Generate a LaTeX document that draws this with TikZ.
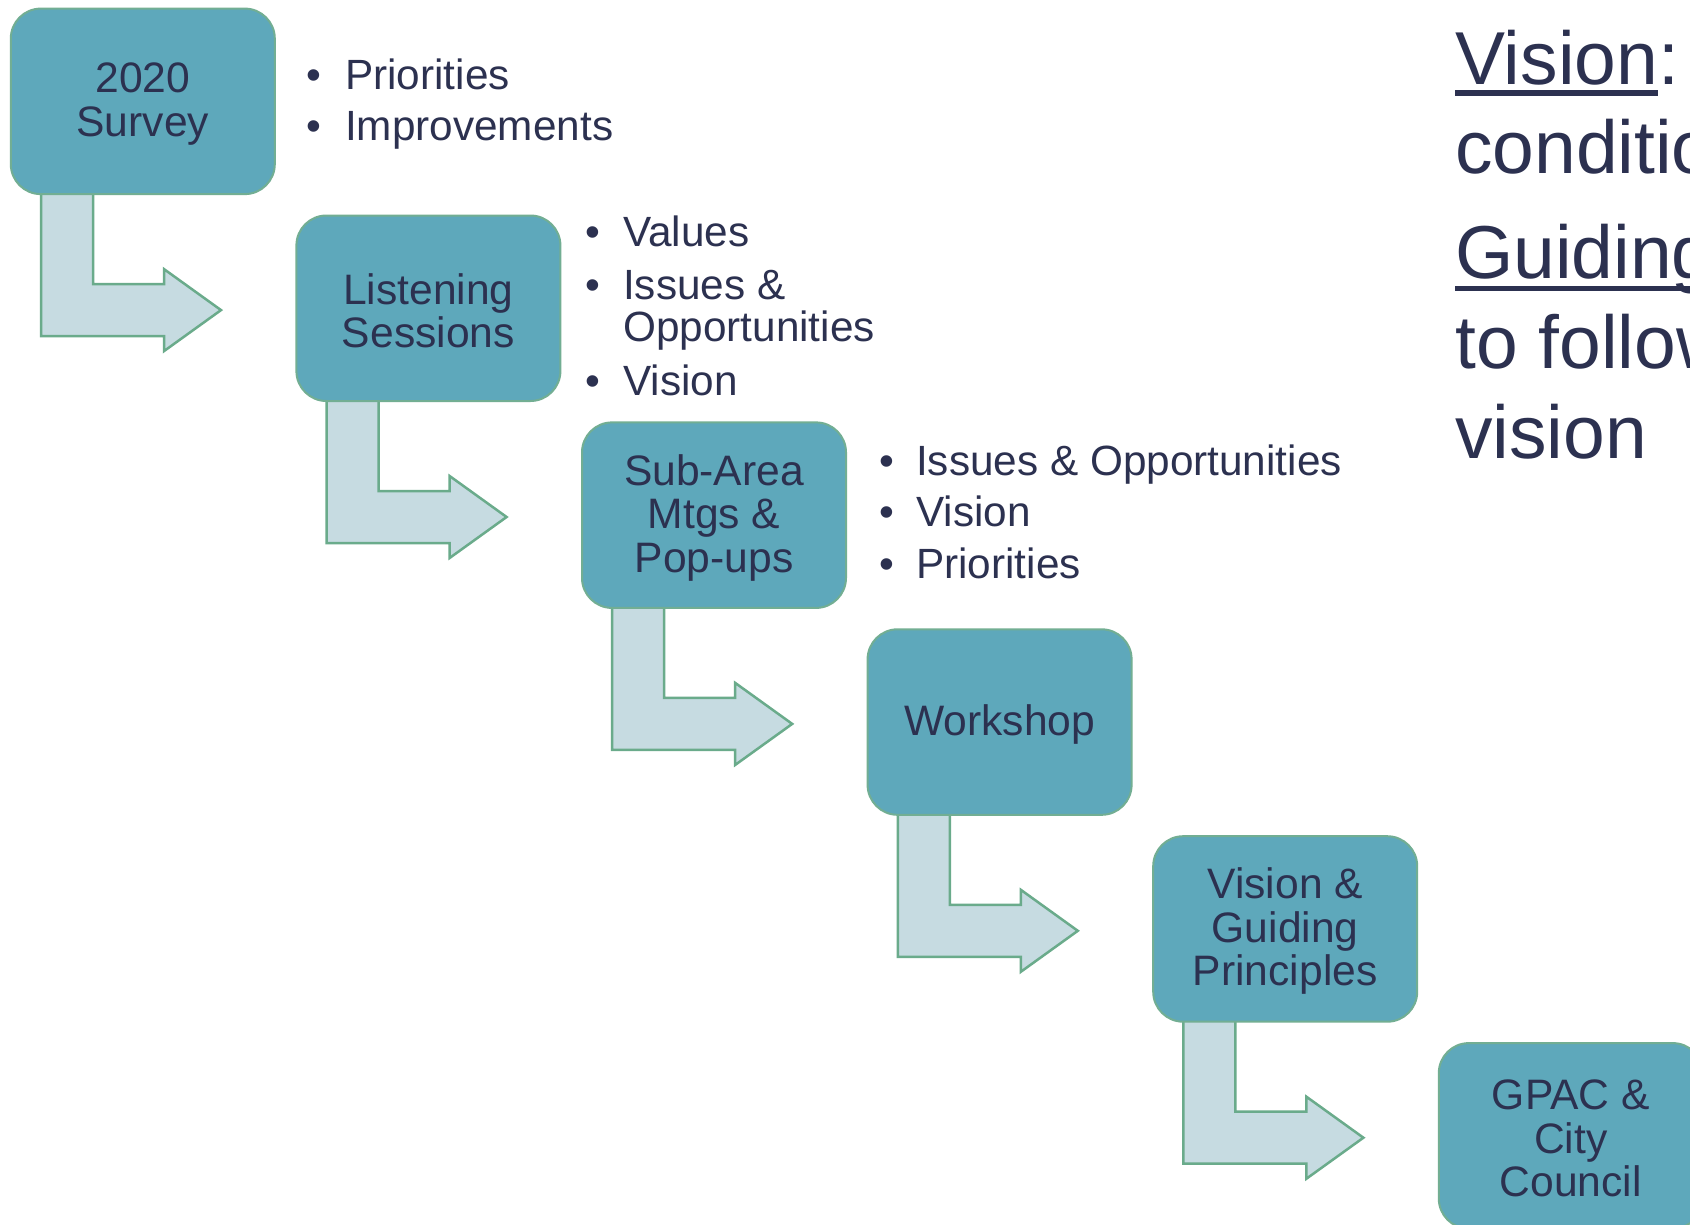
\documentclass[tikz,border=0pt]{standalone}
\usepackage{fontspec}
\setmainfont{Liberation Sans}
\usetikzlibrary{calc}
\definecolor{boxfill}{HTML}{5EA8BB}
\definecolor{boxline}{HTML}{72AE93}
\definecolor{arrfill}{HTML}{C6DBE1}
\definecolor{arrline}{HTML}{6AAB8B}
\definecolor{ink}{HTML}{2C3150}
\tikzset{
  stagebox/.style={draw=boxline, line width=2pt, fill=boxfill, rounded corners=30pt,
    minimum width=264pt, minimum height=185.5pt, inner sep=0pt, outer sep=0pt},
  stagetext/.style={inner sep=0pt, align=center, text=ink, font=\fontsize{42.6}{43.5}\selectfont},
  blockarrow/.style={draw=arrline, line width=2.5pt, fill=arrfill, line join=miter},
  bul/.style={anchor=base, text=ink, font=\fontsize{42.3}{42}\selectfont, inner sep=0pt},
  itemtxt/.style={anchor=base west, text=ink, font=\fontsize{42.3}{42}\selectfont, inner sep=0pt},
  sidetxt/.style={anchor=base west, text=ink, font=\fontsize{75}{90}\selectfont, inner sep=0pt},
  uline/.style={draw=ink, line width=5.5pt}
}
\begin{document}
\begin{tikzpicture}[x=1pt,y=-1pt]
\useasboundingbox (0,0) rectangle (1690,1224);
\fill[white] (0,0) rectangle (1690,1224);
\begin{scope}
\clip (0,0) rectangle (1690,1224);
% stage box centres
\path (142.8,101.35) coordinate (c1)
      (428.4,308.25) coordinate (c2)
      (714.0,515.15) coordinate (c3)
      (999.6,722.05) coordinate (c4)
      (1285.2,928.95) coordinate (c5)
      (1570.8,1135.85) coordinate (c6);
% invisible placeholders to get anchors for the arrows
\foreach \i in {1,...,5}{
  \node[stagebox, draw=none, fill=none] (p\i) at (c\i) {};
}
% bent block arrows (connectors from box k to box k+1)
\foreach \i in {1,...,5}{
  \draw[blockarrow] ($(p\i.south west)+(30.2,-1)$) -- ($(p\i.south west)+(30.2,142)$)
     -- ($(p\i.south west)+(153.2,142)$) -- ($(p\i.south west)+(153.2,157)$)
     -- ($(p\i.south west)+(210.2,116)$) -- ($(p\i.south west)+(153.2,75)$)
     -- ($(p\i.south west)+(153.2,90)$) -- ($(p\i.south west)+(82.2,90)$)
     -- ($(p\i.south west)+(82.2,-1)$) -- cycle;
}
\foreach \i in {1,...,6}{
  \node[stagebox] (b\i) at (c\i) {};
}
\node[stagetext] (b1t) at ($(c1)+(0,2.5)$) {2020\\Survey};
\node[stagetext] (b2t) at ($(c2)+(0,2.5)$) {Listening\\Sessions};
\node[stagetext] (b3t) at ($(c3)+(0,2.5)$) {Sub-Area\\Mtgs \&\\Pop-ups};
\node[stagetext] (b4t) at ($(c4)+(0,2.5)$) {Workshop};
\node[stagetext] (b5t) at ($(c5)+(0,2.5)$) {Vision \&\\Guiding\\Principles};
\node[stagetext] (b6t) at ($(c6)+(0,2.5)$) {GPAC \&\\City\\Council};
% bullet list 1
\node[bul] (l1a) at (314,89) {•};
\node[itemtxt] (t1a) at (345,89) {Priorities};
\node[bul] (l1b) at (314,140.7) {•};
\node[itemtxt] (t1b) at (345,140.7) {Improvements};
% bullet list 2
\node[bul] (l2a) at (592.5,246) {•};
\node[itemtxt] (t2a) at (623,246) {Values};
\node[bul] (l2b) at (592.5,299) {•};
\node[itemtxt] (t2b) at (623,299) {Issues \&};
\node[itemtxt] (t2c) at (623,341) {Opportunities};
\node[bul] (l2d) at (592.5,395) {•};
\node[itemtxt] (t2d) at (623,395) {Vision};
% bullet list 3
\node[bul] (l3a) at (886.5,475) {•};
\node[itemtxt] (t3a) at (916,475) {Issues \& Opportunities};
\node[bul] (l3b) at (886.5,526.5) {•};
\node[itemtxt] (t3b) at (916,526.5) {Vision};
\node[bul] (l3c) at (886.5,578) {•};
\node[itemtxt] (t3c) at (916,578) {Priorities};
% right-hand definitions
\node[sidetxt] (v1) at (1455,84) {Vision};
\node[sidetxt] (v1c) at (v1.base east) {:};
\draw[uline] ($(v1.base west)+(0,9)$) -- ($(v1.base east)+(0,9)$);
\node[sidetxt] (v2) at (1455,173) {condition};
\node[sidetxt] (g1) at (1455,278) {Guiding};
\draw[uline] ($(g1.base west)+(0,10.5)$) -- ($(g1.base east)+(0,10.5)$);
\node[sidetxt] (g2) at (1455,368) {to follow};
\node[sidetxt] (g3) at (1455,458) {vision};
\end{scope}
\end{tikzpicture}
\end{document}
